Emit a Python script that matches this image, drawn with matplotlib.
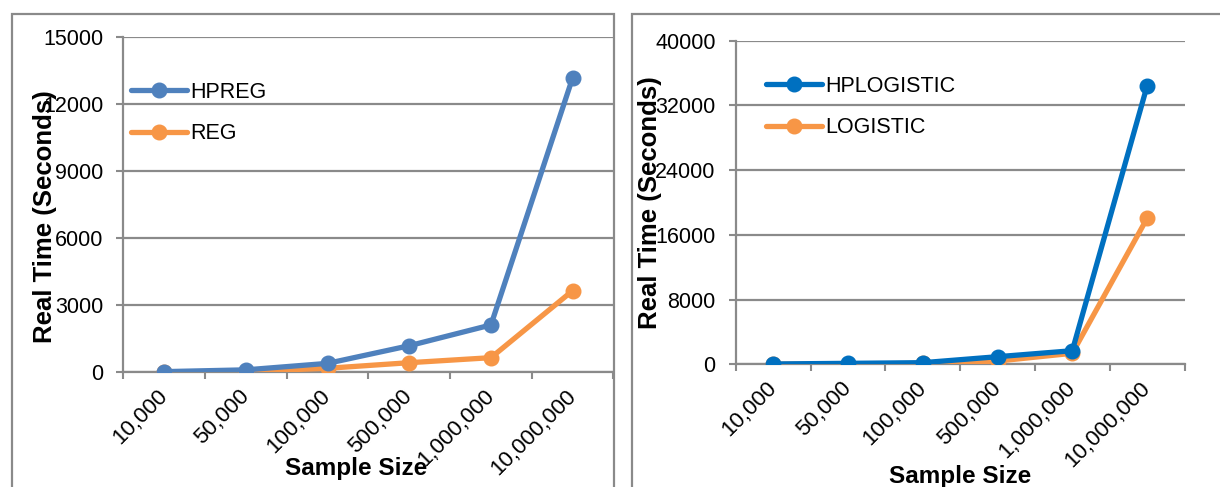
import matplotlib
matplotlib.use("Agg")
import matplotlib.pyplot as plt
from matplotlib.patches import Rectangle

categories = ["10,000", "50,000", "100,000", "500,000", "1,000,000", "10,000,000"]
hpreg = [30, 110, 400, 1190, 2120, 13190]
reg = [10, 40, 180, 430, 655, 3655]
hplogistic = [40, 120, 200, 940, 1680, 34410]
logistic = [15, 50, 100, 400, 1360, 18050]

left_yticks = [0, 3000, 6000, 9000, 12000, 15000]
right_yticks = [0, 8000, 16000, 24000, 32000, 40000]

W, H = 1220, 487
plt.rcParams['font.family'] = ['Liberation Sans', 'DejaVu Sans']
fig = plt.figure(figsize=(W / 100, H / 100), dpi=100)

GRID = '#8a8a8a'

def fx(px):
    return px / W

def fy(py):
    return 1 - py / H

# panel borders
fig.patches.append(Rectangle((fx(12), fy(600)), fx(614) - fx(12), fy(14) - fy(600),
                             transform=fig.transFigure, fill=False, edgecolor=GRID, linewidth=1.6))
fig.patches.append(Rectangle((fx(632), fy(600)), fx(1400) - fx(632), fy(14) - fy(600),
                             transform=fig.transFigure, fill=False, edgecolor=GRID, linewidth=1.6))


def make_axes(x0, x1, ytop, ybot, s1, s2, names, colors, yticks, legend_xy):
    ax = fig.add_axes([fx(x0), fy(ybot), fx(x1) - fx(x0), fy(ytop) - fy(ybot)])
    n = len(categories)
    xs = [i + 0.5 for i in range(n)]
    l2, = ax.plot(xs, s2, color=colors[1], lw=3.8, marker='o', ms=10.5, label=names[1],
                  solid_capstyle='round', zorder=3)
    l1, = ax.plot(xs, s1, color=colors[0], lw=3.8, marker='o', ms=10.5, label=names[0],
                  solid_capstyle='round', zorder=4)
    ax.set_xlim(0, n)
    ax.set_ylim(yticks[0], yticks[-1])
    ax.set_yticks(yticks)
    ax.set_yticklabels([str(v) for v in yticks], fontsize=15.5)
    ax.set_xticks(range(n + 1))
    ax.set_xticklabels([])
    ax.set_xticks(xs, minor=True)
    ax.set_xticklabels(categories, minor=True, rotation=45, ha='right', va='center',
                       rotation_mode='anchor', fontsize=16)
    ax.tick_params(axis='x', which='minor', length=0, pad=15)
    ax.tick_params(axis='x', which='major', length=5, width=1.5, color=GRID, direction='out')
    ax.tick_params(axis='y', length=5, width=1.5, color=GRID, direction='out', pad=9.5)
    ax.grid(axis='y', color=GRID, linewidth=1.6, zorder=0)
    for sp in ['top', 'right']:
        ax.spines[sp].set_visible(False)
    for sp in ['left', 'bottom']:
        ax.spines[sp].set_color(GRID)
        ax.spines[sp].set_linewidth(1.6)
    ax.set_axisbelow(True)
    ax.patch.set_alpha(0)
    ax.legend(handles=[l1, l2], loc='upper left',
              bbox_to_anchor=(fx(legend_xy[0]), fy(legend_xy[1])),
              bbox_transform=fig.transFigure, frameon=False, fontsize=15.5,
              handlelength=2.6, handletextpad=0.15, labelspacing=0.95, borderpad=0,
              borderaxespad=0)
    return ax


make_axes(123.3, 613.5, 37.3, 372.3, hpreg, reg, ["HPREG", "REG"],
          ['#4F81BD', '#F79646'], left_yticks, (131, 82))
make_axes(735.7, 1184.5, 40.7, 364.3, hplogistic, logistic, ["HPLOGISTIC", "LOGISTIC"],
          ['#0070C0', '#F79646'], right_yticks, (766, 76))

fig.text(fx(45), fy(217), "Real Time (Seconds)", rotation=90, ha='center', va='center',
         fontsize=18.5, fontweight='bold')
fig.text(fx(650), fy(203), "Real Time (Seconds)", rotation=90, ha='center', va='center',
         fontsize=18.5, fontweight='bold')
fig.text(fx(356), fy(468), "Sample Size", ha='center', va='center', fontsize=17.5, fontweight='bold')
fig.text(fx(960), fy(476), "Sample Size", ha='center', va='center', fontsize=17.5, fontweight='bold')

fig.savefig("out.png", dpi=100)
